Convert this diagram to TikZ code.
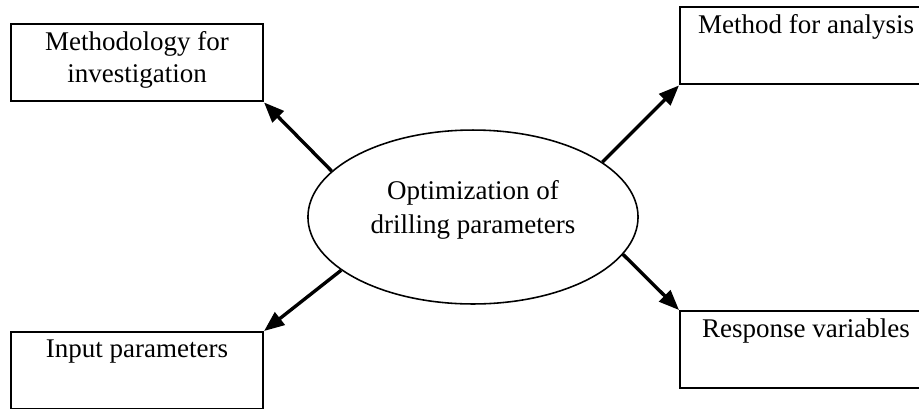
\documentclass[tikz,border=0pt]{standalone}
\usepackage{fontspec}
\setmainfont{Liberation Serif}
\usetikzlibrary{shapes.geometric}
\usetikzlibrary{arrows.meta}

\begin{document}
\begin{tikzpicture}[x=0.4444pt,y=-0.4444pt]
            % Define the sizes of the boxes and the ellipse
            \def\w{112pt}  % width of a box
            \def\h{34.4pt}  % height of a box
            \def\ew{146.7pt} % width of the ellipse
            \def\eh{77.3pt} % height of the ellipse

            \tikzset{
                topicbox/.style={draw, line width=0.9pt, rectangle, anchor=north west,
                    minimum width=\w, minimum height=\h, inner sep=0pt},
                boxtext/.style={anchor=north, inner sep=3.5pt, align=center,
                    font=\fontsize{12}{14.2}\selectfont},
                spoke/.style={line width=1.5pt, -{Triangle[length=9pt,width=7pt]}}
            }

            \useasboundingbox (0,0) rectangle (919,408);

            % Draw the central topic
            \node[ellipse, draw, line width=0.7pt, minimum width=\ew, minimum height=\eh,
                inner sep=0pt, align=center, font=\fontsize{12}{15}\selectfont]
                (opt) at (473,217) {Optimization of\\drilling parameters\\[-6pt]};

            % Draw the four boxes
            \node[topicbox, label={[boxtext]north:Methodology for\\investigation}] (method) at (10,23) {};
            \node[topicbox, label={[boxtext]north:Method for analysis}] (analysis) at (679,6) {};
            \node[topicbox, label={[boxtext]north:Input parameters}] (input) at (10,331) {};
            \node[topicbox, label={[boxtext]north:Response variables}] (response) at (679,310) {};

            % Draw the arrows
            \draw[spoke] (opt.162) -- (method.south east);
            \draw[spoke] (opt.23) -- (analysis.south west);
            \draw[spoke] (opt.202) -- (input.north east);
            \draw[spoke] (opt.346) -- (response.north west);

\end{tikzpicture}
\end{document}
